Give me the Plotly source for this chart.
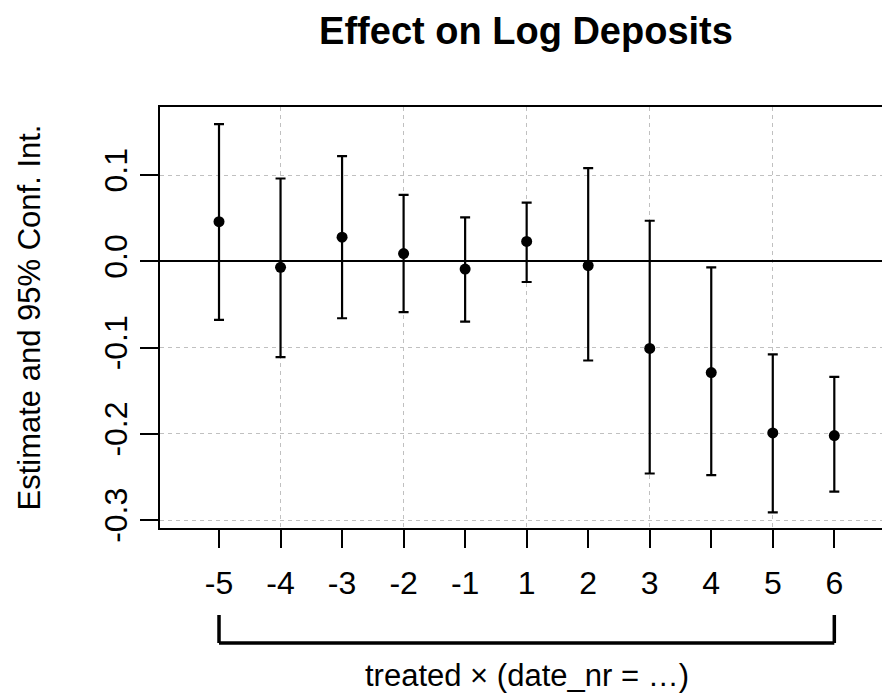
import plotly.graph_objects as go

# Event-study coefficients: treated x (date_nr = ...)
periods = ["-5", "-4", "-3", "-2", "-1", "1", "2", "3", "4", "5", "6"]
estimate = [0.046, -0.007, 0.028, 0.009, -0.009, 0.023, -0.005, -0.101, -0.129, -0.199, -0.202]
ci_low = [-0.068, -0.111, -0.066, -0.059, -0.070, -0.024, -0.115, -0.246, -0.248, -0.291, -0.267]
ci_high = [0.159, 0.096, 0.122, 0.077, 0.051, 0.068, 0.108, 0.047, -0.007, -0.108, -0.134]
y_ticks = [0.1, 0.0, -0.1, -0.2, -0.3]
y_ticklabels = ["0.1", "0.0", "-0.1", "-0.2", "-0.3"]

pos = list(range(1, len(periods) + 1))
grid_pos = pos[1::2]

FONT = "Liberation Sans, Arial, sans-serif"
W, H = 882, 697
L, T, B, R = 160, 107, 169, 0

fig = go.Figure()

# invisible trace that carries the sparse vertical grid axis
fig.add_trace(go.Scatter(x=grid_pos, y=[0] * len(grid_pos), xaxis="x2", mode="markers",
                         marker=dict(opacity=0), hoverinfo="skip", showlegend=False))

fig.add_trace(go.Scatter(
    x=pos, y=estimate, mode="markers",
    marker=dict(color="black", size=11),
    error_y=dict(type="data", symmetric=False,
                 array=[h - e for h, e in zip(ci_high, estimate)],
                 arrayminus=[e - l for e, l in zip(estimate, ci_low)],
                 color="black", thickness=2.2, width=5),
    showlegend=False,
))

xr = [0.041, 11.775]
yr = [-0.3092, 0.1789]

fig.update_layout(
    width=W, height=H,
    margin=dict(l=L, r=R, t=T, b=B, pad=0),
    paper_bgcolor="white", plot_bgcolor="white",
    font=dict(family=FONT, size=31, color="black"),
    title=dict(text="<b>Effect on Log Deposits</b>", x=526 / W, xanchor="center",
               xref="container", y=1 - 31 / H, yanchor="middle", yref="container",
               font=dict(size=38, family=FONT, color="black")),
    xaxis=dict(range=xr, tickmode="array", tickvals=pos, ticktext=periods,
               ticks="outside", ticklen=18, tickwidth=2, tickcolor="black",
               ticklabelstandoff=8,
               showgrid=False, zeroline=False,
               showline=True, linecolor="black", linewidth=2, mirror=True,
               tickfont=dict(size=32)),
    xaxis2=dict(range=xr, overlaying="x", anchor="y", tickmode="array", tickvals=grid_pos,
                showticklabels=False, ticks="", showgrid=True, gridcolor="#c0c0c0",
                griddash="4px,4px", gridwidth=1.2, zeroline=False, showline=False),
    yaxis=dict(range=yr, tickmode="array", tickvals=y_ticks, ticktext=y_ticklabels,
               tickangle=-90, ticks="outside", ticklen=18, tickwidth=2, tickcolor="black",
               showgrid=True, gridcolor="#c0c0c0", griddash="4px,4px", gridwidth=1.2,
               zeroline=True, zerolinecolor="black", zerolinewidth=1.8,
               showline=True, linecolor="black", linewidth=2, mirror=False,
               tickfont=dict(size=32)),
)

plot_h = H - T - B

# bracket grouping all periods
def py(ypix):
    return (H - B - ypix) / plot_h

bracket = dict(color="black", width=3.5)
fig.add_shape(type="line", xref="x", yref="paper", x0=pos[0], x1=pos[0], y0=py(615), y1=py(643), line=bracket)
fig.add_shape(type="line", xref="x", yref="paper", x0=pos[-1], x1=pos[-1], y0=py(615), y1=py(643), line=bracket)
fig.add_shape(type="line", xref="x", yref="paper", x0=pos[0], x1=pos[-1], y0=py(643), y1=py(643), line=bracket)

fig.add_annotation(text="treated × (date_nr = …)", xref="x", yref="paper",
                   x=(pos[0] + pos[-1]) / 2, y=py(675), xanchor="center", yanchor="middle",
                   showarrow=False, font=dict(size=31))

fig.add_annotation(text="Estimate and 95% Conf. Int.", xref="paper", yref="paper",
                   x=(29 - L) / (W - L - R), y=0.5, xanchor="center", yanchor="middle",
                   textangle=-90, showarrow=False, font=dict(size=31))

fig.write_html("out.html")
